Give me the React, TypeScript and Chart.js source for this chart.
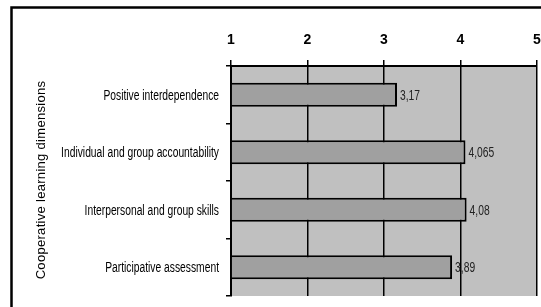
import React, { useEffect, useRef } from "react";
import { Chart, registerables } from "chart.js";

Chart.register(...registerables);

const categories = [
  "Positive interdependence",
  "Individual and group accountability",
  "Interpersonal and group skills",
  "Participative assessment",
];
const values = [3.17, 4.065, 4.08, 3.89];
const valueLabels = ["3,17", "4,065", "4,08", "3,89"];
const axisTitle = "Cooperative learning dimensions";
const xMin = 1;
const xMax = 5;

const FONT = "'Liberation Sans', Arial, sans-serif";
const SQUEEZE = 0.735;

function narrowText(ctx: CanvasRenderingContext2D, text: string, x: number, y: number, align: CanvasTextAlign) {
  ctx.save();
  ctx.translate(x, y);
  ctx.scale(SQUEEZE, 1);
  ctx.textAlign = align;
  ctx.fillText(text, 0, 0);
  ctx.restore();
}

const decorPlugin = {
  id: "decor",
  beforeDraw(chart: any) {
    const { ctx, chartArea } = chart;
    ctx.save();
    ctx.fillStyle = "#ffffff";
    ctx.fillRect(0, 0, chart.width, chart.height);
    ctx.fillStyle = "#c0c0c0";
    ctx.fillRect(chartArea.left, chartArea.top, chartArea.right - chartArea.left, chartArea.bottom - chartArea.top);
    ctx.strokeStyle = "#000";
    ctx.lineWidth = 2.5;
    ctx.strokeRect(11.5, 7.5, 800, 600);
    ctx.restore();
  },
  afterDraw(chart: any) {
    const { ctx } = chart;
    ctx.save();
    // axis title
    ctx.translate(41, 180);
    ctx.rotate(-Math.PI / 2);
    ctx.font = "13px " + FONT;
    try { (ctx as any).letterSpacing = "0.3px"; } catch (e) {}
    ctx.fillStyle = "#000";
    ctx.textAlign = "center";
    ctx.textBaseline = "middle";
    ctx.fillText(axisTitle, 0, 0);
    ctx.restore();

    // category labels
    const yScale = chart.scales.y;
    ctx.save();
    ctx.font = "14px " + FONT;
    ctx.fillStyle = "#000";
    ctx.textBaseline = "middle";
    categories.forEach((c, i) => {
      narrowText(ctx, c, yScale.right - 12, yScale.getPixelForTick(i) + 1, "right");
    });
    ctx.restore();

    // value labels
    const meta = chart.getDatasetMeta(0);
    ctx.save();
    ctx.font = "14px " + FONT;
    ctx.fillStyle = "#222";
    ctx.textBaseline = "middle";
    meta.data.forEach((bar: any, i: number) => {
      narrowText(ctx, valueLabels[i], bar.x + 3, bar.y + 1, "left");
    });
    ctx.restore();
  },
};

export default function App() {
  const ref = useRef<HTMLCanvasElement | null>(null);
  useEffect(() => {
    if (!ref.current) return;
    const chart = new Chart(ref.current, {
      type: "bar",
      data: {
        labels: categories,
        datasets: [
          {
            data: values,
            base: xMin,
            backgroundColor: "#a0a0a0",
            borderColor: "#000",
            borderWidth: 2,
            borderSkipped: "start",
            barPercentage: 0.42,
            categoryPercentage: 1,
          } as any,
        ],
      },
      options: {
        indexAxis: "y",
        responsive: false,
        animation: false,
        events: [],
        layout: { padding: { top: 0, right: 4, bottom: 11, left: 0 } },
        plugins: { legend: { display: false }, tooltip: { enabled: false } },
        scales: {
          x: {
            position: "top",
            min: xMin,
            max: xMax,
            ticks: {
              stepSize: 1,
              color: "#000",
              padding: 11,
              font: { family: FONT, size: 14, weight: "bold" },
            },
            grid: { color: "#000", lineWidth: 1.5, tickLength: 6, tickColor: "#000" },
            border: { color: "#000", width: 2 },
            afterFit: (s: any) => {
              s.height = 66;
              s.paddingLeft = 0;
              s.paddingRight = 0;
              s.paddingTop = 0;
              s.paddingBottom = 0;
            },
          },
          y: {
            position: "left",
            ticks: { display: false },
            grid: { offset: true, drawOnChartArea: false, color: "#000", lineWidth: 1.5, tickLength: 5 },
            border: { color: "#000", width: 2 },
            afterFit: (s: any) => {
              s.width = 231;
              s.paddingLeft = 0;
              s.paddingRight = 0;
              s.paddingTop = 0;
              s.paddingBottom = 0;
            },
          },
        },
      },
      plugins: [decorPlugin],
    });
    return () => chart.destroy();
  }, []);
  return (
    <div style={{ position: "fixed", left: 0, top: 0, width: 541, height: 307, background: "#fff" }}>
      <canvas ref={ref} width={541} height={307} style={{ display: "block" }} />
    </div>
  );
}
